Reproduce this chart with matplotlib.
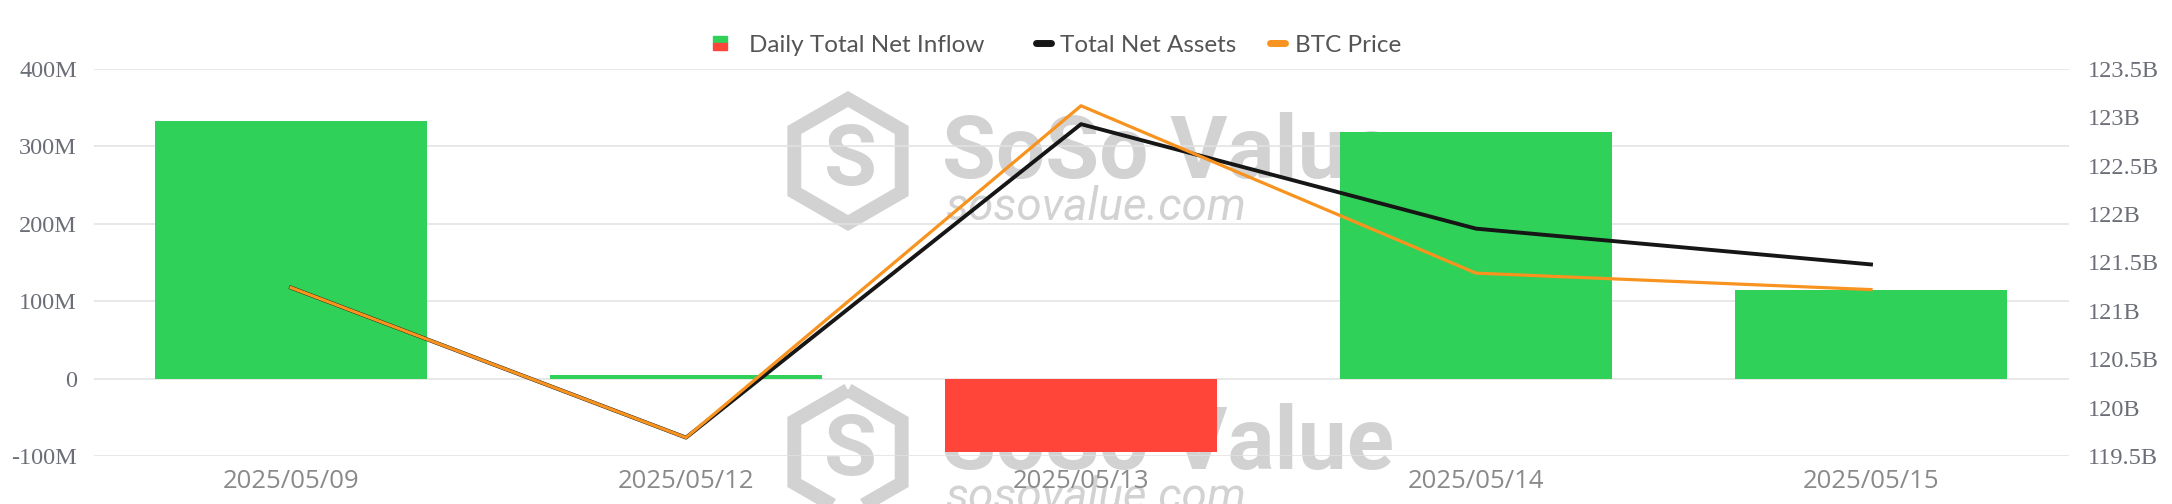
import numpy as np
import matplotlib.pyplot as plt
from matplotlib.patches import Rectangle, RegularPolygon
from matplotlib.lines import Line2D

dates = ['2025/05/09', '2025/05/12', '2025/05/13', '2025/05/14', '2025/05/15']
net_inflow_m = [333, 5, -94.5, 318, 114]
total_net_assets_b = [121.24, 119.69, 122.93, 121.85, 121.48]
btc_price_b = [121.24, 119.69, 123.12, 121.39, 121.22]

left_ticks = [-100, 0, 100, 200, 300, 400]
right_ticks = [119.5, 120, 120.5, 121, 121.5, 122, 122.5, 123, 123.5]

GREEN = '#30d158'
RED = '#ff453a'
BLACK = '#161616'
ORANGE = '#f7931e'
WM = '#d2d2d2'

W, H = 2172, 504
fig = plt.figure(figsize=(W / 100, H / 100), dpi=100)
fig.patch.set_facecolor('white')


def fx(x):
    return x / W


def fy(y):
    return 1 - y / H


def watermark(dy):
    # SoSo Value logo, drawn behind the axes
    hexa = RegularPolygon((848, H - (161 + dy)), numVertices=6, radius=62,
                          orientation=0, facecolor='none', edgecolor=WM,
                          linewidth=10, transform=None, zorder=-2)
    fig.patches.append(hexa)
    fig.text(fx(850), fy(161 + dy), 'S', fontsize=62, fontweight='bold',
             color=WM, ha='center', va='center', family='Roboto', zorder=-2)
    fig.text(fx(942), fy(178 + dy), 'SoSo Value', fontsize=63, fontweight='bold',
             color=WM, ha='left', va='baseline', family='Roboto', zorder=-2)
    fig.text(fx(946), fy(219 + dy), 'sosovalue.com', fontsize=33, style='italic',
             color=WM, ha='left', va='baseline', family='Roboto', zorder=-2)


watermark(0)
watermark(291)

ax = fig.add_axes([fx(93.5), fy(456), 1975 / W, 387 / H])
ax2 = ax.twinx()

x = np.arange(len(dates))
colors = [GREEN if v >= 0 else RED for v in net_inflow_m]
ax.bar(x, net_inflow_m, width=0.69, color=colors, zorder=2)
ax.set_xlim(-0.5, len(dates) - 0.5)
ax.set_ylim(-100, 400)
ax.set_yticks(left_ticks)
ax.set_yticklabels(['0' if v == 0 else '%dM' % v for v in left_ticks],
                   family='Liberation Serif', fontsize=17.5, color='#6b6e76')
ax.set_xticks(x)
ax.set_xticklabels(dates, family='Open Sans', fontsize=18.5, color='#8a8a8a')
ax.tick_params(axis='both', length=0)
ax.tick_params(axis='y', pad=12)
ax.tick_params(axis='x', pad=9)
ax.grid(axis='y', color='#e2e2e2', linewidth=1.1)
ax.set_axisbelow(True)
for s in ax.spines.values():
    s.set_visible(False)
ax.patch.set_visible(False)

ax2.plot(x, total_net_assets_b, color=BLACK, linewidth=2.8, zorder=3)
ax2.plot(x, btc_price_b, color=ORANGE, linewidth=2.3, zorder=4)
ax2.set_ylim(119.5, 123.5)
ax2.set_yticks(right_ticks)
ax2.set_yticklabels(['%gB' % v for v in right_ticks],
                    family='Liberation Serif', fontsize=17.5, color='#6b6e76')
ax2.tick_params(axis='y', length=0, pad=14)
for s in ax2.spines.values():
    s.set_visible(False)
ax2.patch.set_visible(False)

# legend
leg_y = 43
fig.patches.append(Rectangle((fx(713), fy(leg_y)), 14 / W, 7 / H, color=GREEN,
                             transform=fig.transFigure))
fig.patches.append(Rectangle((fx(713), fy(leg_y + 7)), 14 / W, 7 / H, color=RED,
                             transform=fig.transFigure))
fig.lines.append(Line2D([fx(1036), fx(1051)], [fy(leg_y), fy(leg_y)], color=BLACK,
                        linewidth=5, solid_capstyle='round', transform=fig.transFigure))
fig.lines.append(Line2D([fx(1270), fx(1285)], [fy(leg_y), fy(leg_y)], color=ORANGE,
                        linewidth=5, solid_capstyle='round', transform=fig.transFigure))
for xx, label in [(749, 'Daily Total Net Inflow'), (1060, 'Total Net Assets'),
                  (1295, 'BTC Price')]:
    fig.text(fx(xx), fy(leg_y + 3), label, family='Lato', fontsize=17.5, color='#555555',
             ha='left', va='center')

fig.savefig('out.png', dpi=100, facecolor='white')
